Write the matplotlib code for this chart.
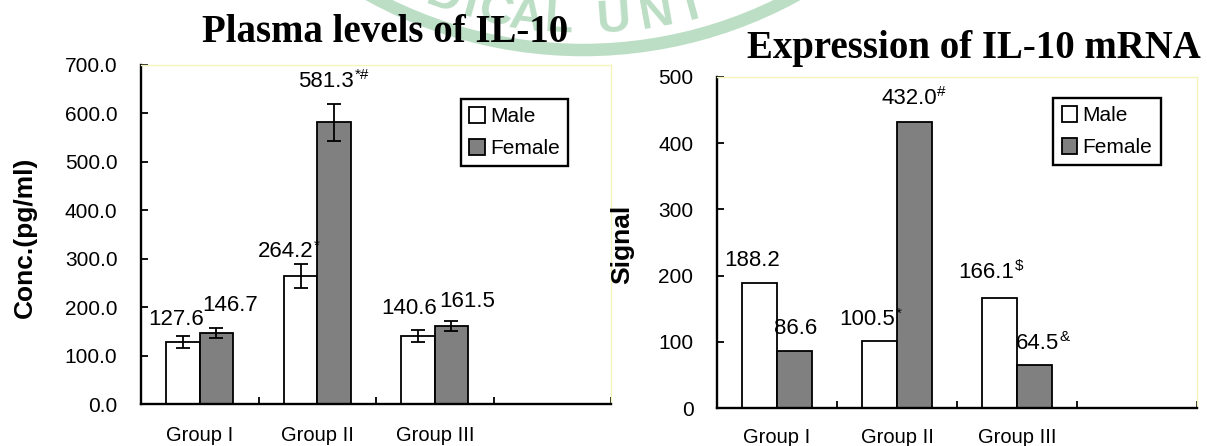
import numpy as np
import matplotlib
matplotlib.use('Agg')
import matplotlib.pyplot as plt
from matplotlib.patches import Arc

plt.rcParams['font.family'] = ['Liberation Sans', 'DejaVu Sans']

groups = ['Group I', 'Group II', 'Group III']
series = ['Male', 'Female']

# plasma IL-10 (pg/ml), mean and error
plasma_male = [127.6, 264.2, 140.6]
plasma_female = [146.7, 581.3, 161.5]
plasma_male_err = [12.8, 25.5, 12.7]
plasma_female_err = [10.6, 37.5, 10.7]
plasma_male_sup = ['', '*', '']
plasma_female_sup = ['', '*#', '']

# IL-10 mRNA signal
mrna_male = [188.2, 100.5, 166.1]
mrna_female = [86.6, 432.0, 64.5]
mrna_male_sup = ['', '*', '$']
mrna_female_sup = ['', '#', '&']

# label nudges in pixels (dx, dy of baseline above bar / error bar top)
px = 0.72
plasma_male_off = [(-7, 11.5), (-15, 6.5), (-9, 15.5)]
plasma_female_off = [(14, 16.5), (-8, 17.5), (15.5, 13.5)]
mrna_male_off = [(-7.6, 17.5), (-12, 16), (-13, 20.5)]
mrna_female_off = [(1, 16.5), (-5.5, 18), (3, 16.5)]

W, H = 1207, 446
fig = plt.figure(figsize=(W / 100, H / 100), dpi=100)

# faint watermark (university seal) behind everything
green = '#bcdec5'
bg = fig.add_axes([0, 0, 1, 1], zorder=-1)
bg.set_xlim(0, W)
bg.set_ylim(H, 0)
bg.axis('off')
cx, cy = 583, -393
bg.add_patch(Arc((cx, cy), 2 * 443, 2 * 443, theta1=55, theta2=125, color=green, lw=9))
for ch, th in zip('DICALUNI', [-19.6, -15.8, -12.3, -7.8, -3.3, 4.2, 10.2, 15.3]):
    t = np.radians(th)
    bg.text(cx + 414 * np.sin(t), cy + 414 * np.cos(t), ch, rotation=th,
            rotation_mode='anchor', ha='center', va='center', fontsize=34,
            weight='bold', color=green)


def label(ax, xv, yv, txt, sup, off):
    t = ax.annotate(txt, (xv, yv), xytext=(off[0] * px, off[1] * px),
                    textcoords='offset points', ha='center', va='baseline',
                    fontsize=16)
    if sup:
        ax.annotate(sup, xy=(1, 1), xycoords=t, xytext=(0.3, -3),
                    textcoords='offset points', ha='left', va='center',
                    fontsize=11)


def draw_panel(ax, male, female, male_err, female_err, male_sup, female_sup,
               male_off, female_off, ymax, bw, pad):
    x = np.arange(len(groups))
    ekw = dict(ecolor='black', elinewidth=1.3, capsize=4.7, capthick=1.3)
    b1 = ax.bar(x - bw / 2, male, bw, color='white', edgecolor='black',
                linewidth=1.3, yerr=male_err, error_kw=ekw, label=series[0])
    b2 = ax.bar(x + bw / 2, female, bw, color='#808080', edgecolor='black',
                linewidth=1.3, yerr=female_err, error_kw=ekw, label=series[1])

    for i in range(len(groups)):
        top_m = male[i] + (male_err[i] if male_err else 0)
        top_f = female[i] + (female_err[i] if female_err else 0)
        label(ax, x[i] - bw / 2, top_m, '%.1f' % male[i], male_sup[i], male_off[i])
        label(ax, x[i] + bw / 2, top_f, '%.1f' % female[i], female_sup[i], female_off[i])

    ax.set_xlim(-0.5, 3.5)
    ax.set_ylim(0, ymax)
    ax.set_xticks(x)
    ax.set_xticklabels(groups)
    ax.set_xticks([0.5, 1.5, 2.5, 3.5], minor=True)
    ax.tick_params(axis='x', which='major', length=0, pad=pad, labelsize=14.5)
    ax.tick_params(axis='x', which='minor', direction='in', length=5, width=1.3)
    ax.set_yticks(np.arange(0, ymax + 1, 100))
    ax.tick_params(axis='y', direction='in', length=5, width=1.3, pad=17,
                   labelsize=15)

    for s in ['left', 'bottom']:
        ax.spines[s].set_linewidth(1.7)
    for s in ['top', 'right']:
        ax.spines[s].set_color('#f4f4bc')
        ax.spines[s].set_linewidth(1)
    return b1, b2


ax1 = fig.add_axes([141 / W, 1 - 404 / H, 470 / W, 339 / H])
draw_panel(ax1, plasma_male, plasma_female, plasma_male_err, plasma_female_err,
           plasma_male_sup, plasma_female_sup, plasma_male_off, plasma_female_off,
           700, 0.285, 16)
ax1.set_yticklabels(['%.1f' % v for v in ax1.get_yticks()])

ax2 = fig.add_axes([717 / W, 1 - 408 / H, 480 / W, 331 / H])
draw_panel(ax2, mrna_male, mrna_female, None, None,
           mrna_male_sup, mrna_female_sup, mrna_male_off, mrna_female_off,
           500, 0.29, 14.5)
ax2.set_yticklabels(['%d' % v for v in ax2.get_yticks()])

for ax, anchor in [(ax1, (0.681, 0.900)), (ax2, (0.701, 0.937))]:
    leg = ax.legend(loc='upper left', bbox_to_anchor=anchor, frameon=True,
                    fancybox=False, edgecolor='black', framealpha=1,
                    handlelength=0.75, handleheight=0.8, handletextpad=0.25,
                    borderpad=0.4, labelspacing=0.6, fontsize=15,
                    borderaxespad=0)
    leg.get_frame().set_linewidth(1.7)

fig.text(385 / W, 1 - 42 / H, 'Plasma levels of IL-10', family='Liberation Serif',
         weight='bold', fontsize=28, ha='center', va='baseline')
fig.text(974 / W, 1 - 58 / H, 'Expression of IL-10 mRNA', family='Liberation Serif',
         weight='bold', fontsize=28, ha='center', va='baseline')
fig.text(25 / W, 1 - 237 / H, 'Conc.(pg/ml)', rotation=90, weight='bold',
         fontsize=19, ha='center', va='center')
fig.text(622 / W, 1 - 244 / H, 'Signal', rotation=90, weight='bold',
         fontsize=19, ha='center', va='center')

fig.savefig('out.png', dpi=100)
